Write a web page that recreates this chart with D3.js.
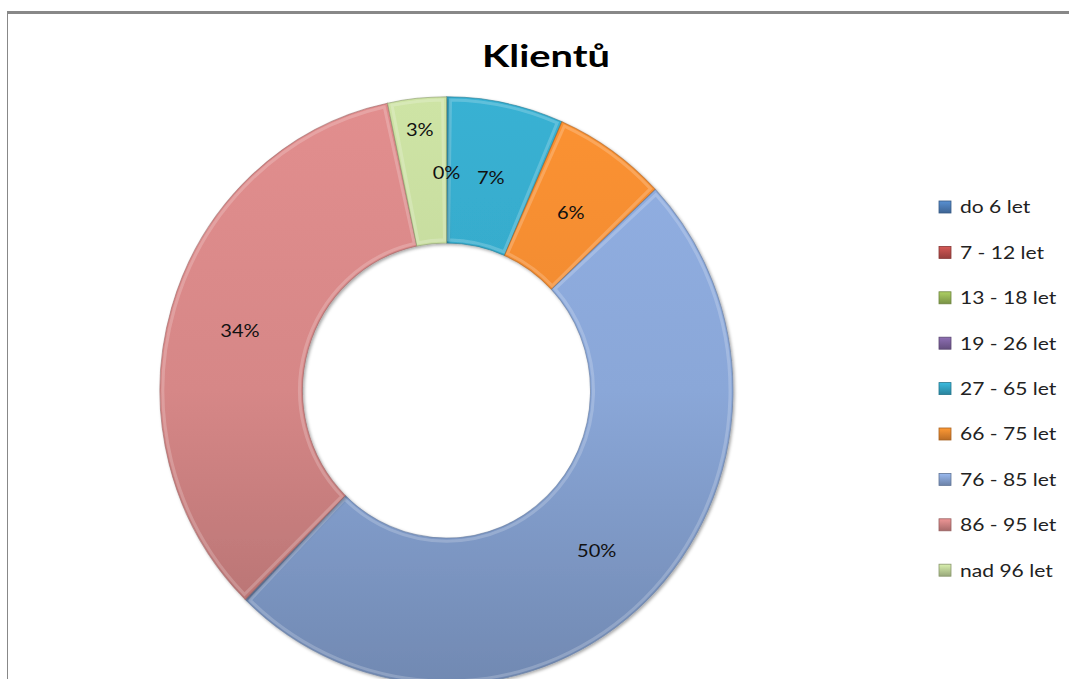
<!DOCTYPE html>
<html>
<head>
<meta charset="utf-8">
<script src="https://cdn.jsdelivr.net/npm/d3@7"></script>
<style>
  body { margin: 0; background: #fff; }
  svg { display: block; font-family: Lato, "Open Sans", sans-serif; }
</style>
</head>
<body>
<svg></svg>
<script>
// Data
const categories = ["do 6 let", "7 - 12 let", "13 - 18 let", "19 - 26 let", "27 - 65 let",
                    "66 - 75 let", "76 - 85 let", "86 - 95 let", "nad 96 let"];
const values = [0, 0, 0, 0, 6.6, 6.4, 49.4, 34.3, 3.3];
const labels = ["0%", "0%", "0%", "0%", "7%", "6%", "50%", "34%", "3%"];
const colors = ["#4F81BD", "#C0504D", "#9BBB59", "#8064A2", "#35A8C8",
                "#EF8A30", "#8AA7D8", "#D68787", "#C3D89C"];

const width = 1069, height = 679;
const svg = d3.select("svg").attr("width", width).attr("height", height);
const defs = svg.append("defs");

// cadre (haut et gauche)
svg.append("rect").attr("x", 7).attr("y", 11).attr("width", width - 7).attr("height", 3).attr("fill", "#888");
svg.append("rect").attr("x", 7).attr("y", 11).attr("width", 1).attr("height", height - 11).attr("fill", "#888");

// titre
svg.append("text")
  .attr("x", 482).attr("y", 67)
  .attr("textLength", 128).attr("lengthAdjust", "spacingAndGlyphs")
  .style("font-size", "31px").style("font-weight", "bold")
  .text("Klientů");

const cx = 446.5, cy = 390.5, rOuter = 286.5, rInner = 144, sy = 1.025;

// dégradés
colors.forEach((c, i) => {
  const g = defs.append("linearGradient")
    .attr("id", "grad" + i)
    .attr("gradientUnits", "userSpaceOnUse")
    .attr("x1", 0).attr("y1", -rOuter).attr("x2", 0).attr("y2", rOuter);
  g.append("stop").attr("offset", "0%").attr("stop-color", d3.color(c).brighter(0.15));
  g.append("stop").attr("offset", "50%").attr("stop-color", c);
  g.append("stop").attr("offset", "100%").attr("stop-color", d3.color(c).darker(0.55));
  const lg = defs.append("linearGradient")
    .attr("id", "lgrad" + i).attr("x1", 0).attr("y1", 0).attr("x2", 0).attr("y2", 1);
  lg.append("stop").attr("offset", "0%").attr("stop-color", d3.color(c).brighter(0.3));
  lg.append("stop").attr("offset", "100%").attr("stop-color", d3.color(c).darker(0.7));
});

const shadow = defs.append("filter").attr("id", "shadow")
  .attr("x", "-10%").attr("y", "-10%").attr("width", "120%").attr("height", "120%");
shadow.append("feDropShadow").attr("dx", 1.5).attr("dy", 1.5).attr("stdDeviation", 1.5)
  .attr("flood-color", "#000").attr("flood-opacity", 0.35);

const data = categories.map((name, i) => ({ name, value: values[i], label: labels[i], i }));

const pie = d3.pie().sort(null).value(d => d.value);
const arc = d3.arc().innerRadius(rInner).outerRadius(rOuter);
const arcs = pie(data);

const chart = svg.append("g").attr("transform", `translate(${cx},${cy}) scale(1,${sy})`);

chart.selectAll("path.slice")
  .data(arcs.filter(d => d.data.value > 0))
  .enter().append("path")
  .attr("class", "slice")
  .attr("d", arc)
  .attr("fill", d => `url(#grad${d.data.i})`)
  .attr("stroke", d => d3.color(colors[d.data.i]).darker(0.9))
  .attr("stroke-opacity", 0.6)
  .attr("stroke-width", 1)
  .attr("filter", "url(#shadow)");

// reflet intérieur
const bevel = d3.arc().innerRadius(rInner + 3).outerRadius(rOuter - 3);
chart.selectAll("path.bevel")
  .data(arcs.filter(d => d.data.value > 0))
  .enter().append("path")
  .attr("class", "bevel")
  .attr("d", d => {
    const pad = 3 / ((rInner + rOuter) / 2);
    return bevel({ startAngle: d.startAngle + pad, endAngle: d.endAngle - pad });
  })
  .attr("fill", "none")
  .attr("stroke", "#fff")
  .attr("stroke-opacity", 0.2)
  .attr("stroke-width", 3);

// étiquettes (les tranches nulles tombent au même endroit : une seule suffit)
const labelArc = d3.arc().innerRadius((rInner + rOuter) / 2).outerRadius((rInner + rOuter) / 2);
const outerLabelArc = d3.arc().innerRadius(rOuter - 28).outerRadius(rOuter - 28);
const shownArcs = arcs.filter((d, i) => !(d.data.value === 0 && i > 0 && arcs[i - 1].data.value === 0));
svg.selectAll("text.lbl")
  .data(shownArcs)
  .enter().append("text")
  .attr("class", "lbl")
  .attr("transform", d => {
    const small = d.data.value > 0 && d.data.value < 5;
    const p = (small ? outerLabelArc : labelArc).centroid(d);
    return `translate(${cx + p[0]},${cy + p[1] * sy + 3}) scale(1.18,1)`;
  })
  .attr("text-anchor", "middle")
  .attr("dy", "0.35em")
  .style("font-size", "17px")
  .style("fill", "#111")
  .text(d => d.data.label);

// légende
const legend = svg.append("g").attr("transform", "translate(939,207)");
const item = legend.selectAll("g.item")
  .data(data)
  .enter().append("g")
  .attr("class", "item")
  .attr("transform", (d, i) => `translate(0,${i * 45.4})`);

item.append("rect")
  .attr("x", 0).attr("y", -6).attr("width", 12).attr("height", 12)
  .attr("fill", d => `url(#lgrad${d.i})`)
  .attr("stroke", d => d3.color(colors[d.i]).darker(1))
  .attr("stroke-width", 0.8);

item.append("text")
  .attr("transform", "translate(21,0) scale(1.17,1)")
  .attr("dy", "0.35em")
  .style("font-size", "18px")
  .style("fill", "#222")
  .text(d => d.name);
</script>
</body>
</html>
